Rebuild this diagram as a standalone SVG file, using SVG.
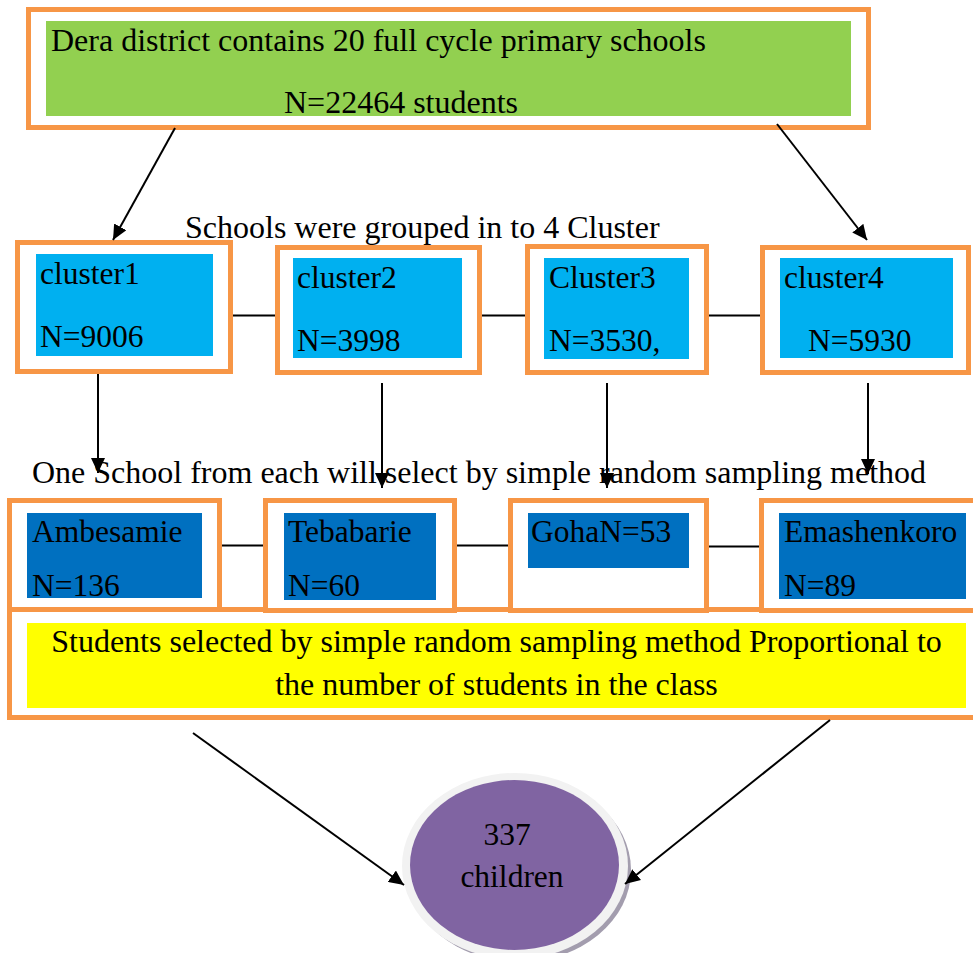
<svg xmlns="http://www.w3.org/2000/svg" width="973" height="953" viewBox="0 0 973 953">
<defs>
<marker id="ah" markerUnits="userSpaceOnUse" markerWidth="16" markerHeight="14" refX="15" refY="7" orient="auto">
<path d="M0,0 L15,7 L0,14 Z" fill="#000"/>
</marker>
</defs>
<style>
.ob{fill:#fff;stroke:#F79646;stroke-width:5}
.t{font-family:"Liberation Serif","Times New Roman",serif;font-size:32px;fill:#000}
.n{font-family:"Liberation Serif","Times New Roman",serif;font-size:31.5px;fill:#000}
.c{stroke:#000;stroke-width:2;fill:none}
.a{stroke:#000;stroke-width:2;fill:none;marker-end:url(#ah)}
</style>
<rect width="973" height="953" fill="#fff"/>

<g id="top">
<rect class="ob" x="28.5" y="9.5" width="840" height="118"/>
<rect x="46" y="21" width="805" height="95" fill="#92D050"/>
<text class="t" x="51" y="51">Dera district contains 20 full cycle primary schools</text>
<text class="t" x="284" y="113">N=22464 students</text>
</g>

<text class="t" x="185" y="238">Schools were grouped in to 4 Cluster</text>

<g id="cluster1">
<rect class="ob" x="17.5" y="242.5" width="213" height="129"/>
<rect x="36" y="254" width="177" height="102" fill="#00B0F0"/>
<text class="n" x="40" y="284">cluster1</text>
<text class="n" x="40" y="347">N=9006</text>
</g>
<g id="cluster2">
<rect class="ob" x="277.5" y="247.5" width="202" height="125"/>
<rect x="293" y="258" width="169" height="100" fill="#00B0F0"/>
<text class="n" x="297" y="288">cluster2</text>
<text class="n" x="297" y="351">N=3998</text>
</g>
<g id="cluster3">
<rect class="ob" x="527.5" y="246.5" width="179" height="126"/>
<rect x="544" y="258" width="145" height="101" fill="#00B0F0"/>
<text class="n" x="549" y="288">Cluster3</text>
<text class="n" x="549" y="351">N=3530,</text>
</g>
<g id="cluster4">
<rect class="ob" x="762.5" y="247.5" width="206" height="125"/>
<rect x="780" y="258" width="173" height="100" fill="#00B0F0"/>
<text class="n" x="784" y="288">cluster4</text>
<text class="n" x="808" y="351">N=5930</text>
</g>

<text class="t" x="32" y="483">One School from each will select by simple random sampling method</text>

<g id="students">
<rect class="ob" x="9.5" y="609.5" width="975" height="108"/>
<rect x="27" y="623" width="939" height="85" fill="#FFFF00"/>
<text class="t" x="496.5" y="652" text-anchor="middle">Students selected by simple random sampling method Proportional to</text>
<text class="t" x="496.5" y="695" text-anchor="middle">the number of students in the class</text>
</g>

<g id="ambesamie">
<rect class="ob" x="9.5" y="500.5" width="210" height="109"/>
<rect x="27" y="513" width="175" height="85" fill="#0070C0"/>
<text class="n" x="32" y="542">Ambesamie</text>
<text class="n" x="32" y="596">N=136</text>
</g>
<g id="tebabarie">
<rect class="ob" x="265.5" y="500.5" width="189" height="110"/>
<rect x="284" y="513" width="152" height="87" fill="#0070C0"/>
<text class="n" x="288" y="542">Tebabarie</text>
<text class="n" x="288" y="596">N=60</text>
</g>
<g id="goha">
<rect class="ob" x="510.5" y="500.5" width="196" height="110"/>
<rect x="528" y="513" width="161" height="55" fill="#0070C0"/>
<text class="n" x="531" y="542">GohaN=53</text>
</g>
<g id="emashenkoro">
<rect class="ob" x="761.5" y="500.5" width="220" height="110"/>
<rect x="779" y="513" width="187" height="86" fill="#0070C0"/>
<text class="n" x="784" y="542">Emashenkoro</text>
<text class="n" x="784" y="596">N=89</text>
</g>

<g id="result">
<ellipse cx="519" cy="870" rx="112" ry="92" fill="#A39DAE"/>
<ellipse cx="515" cy="866" rx="113" ry="93" fill="#F2F2F2"/>
<ellipse cx="514.5" cy="865" rx="104.5" ry="85" fill="#8064A2"/>
<text class="n" x="507" y="845" text-anchor="middle">337</text>
<text class="n" x="512" y="887" text-anchor="middle">children</text>
</g>

<g id="connectors">
<line class="a" x1="175" y1="128" x2="113" y2="240"/>
<line class="a" x1="777" y1="124" x2="867" y2="240"/>
<line class="c" x1="233" y1="315.5" x2="275" y2="315.5"/>
<line class="c" x1="482" y1="315.5" x2="525" y2="315.5"/>
<line class="c" x1="709" y1="315.5" x2="760" y2="315.5"/>
<line class="a" x1="98" y1="374" x2="98" y2="473"/>
<line class="a" x1="382" y1="383" x2="382" y2="488"/>
<line class="a" x1="607" y1="383" x2="607" y2="488"/>
<line class="a" x1="868" y1="383" x2="868" y2="474"/>
<line class="c" x1="222" y1="545.5" x2="263" y2="545.5"/>
<line class="c" x1="457" y1="545.5" x2="508" y2="545.5"/>
<line class="c" x1="709" y1="546.5" x2="759" y2="546.5"/>
<line class="a" x1="193" y1="733" x2="404" y2="885"/>
<line class="a" x1="830" y1="720" x2="625" y2="884"/>
</g>
</svg>
